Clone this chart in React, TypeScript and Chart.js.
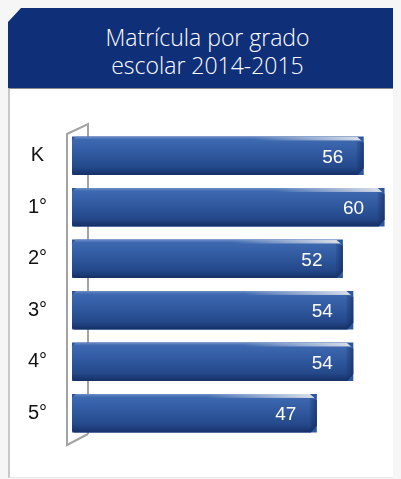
import React, { useEffect, useRef } from "react";
import { Chart, registerables } from "chart.js";

Chart.register(...registerables);

const titleLines = ["Matrícula por grado", "escolar 2014-2015"];
const grades = ["K", "1°", "2°", "3°", "4°", "5°"];
const enrollment = [56, 60, 52, 54, 54, 47];
const xMin = 0;
const xMax = 62;

const wallPlugin = {
  id: "wall",
  beforeDatasetsDraw(chart: any) {
    const { ctx, chartArea } = chart;
    const l = chartArea.left;
    const t = chartArea.top;
    const b = chartArea.bottom;
    const fx = l - 5;
    const bx = l + 16;
    ctx.save();
    ctx.strokeStyle = "#a3a3a3";
    ctx.lineWidth = 2;
    ctx.beginPath();
    ctx.moveTo(bx, b - 5);
    ctx.lineTo(bx, t - 6);
    ctx.lineTo(fx, t + 4);
    ctx.lineTo(fx, b + 6);
    ctx.lineTo(bx, b - 5);
    ctx.stroke();
    ctx.restore();
  },
};

function barPath(ctx: any, x0: number, x1: number, yT: number, yB: number) {
  ctx.beginPath();
  ctx.moveTo(x0 + 4, yT);
  ctx.lineTo(x1 - 7, yT);
  ctx.lineTo(x1, yT + 6);
  ctx.lineTo(x1, yB - 7);
  ctx.lineTo(x1 - 6, yB);
  ctx.lineTo(x0 + 2, yB);
  ctx.lineTo(x0, yB - 2);
  ctx.lineTo(x0, yT + 4);
  ctx.closePath();
}

const bar3dPlugin = {
  id: "bar3d",
  afterDatasetsDraw(chart: any) {
    const { ctx } = chart;
    const meta = chart.getDatasetMeta(0);
    meta.data.forEach((el: any, i: number) => {
      const p = el.getProps(["x", "y", "base", "height"], true);
      const x0 = Math.min(p.base, p.x);
      const x1 = Math.max(p.base, p.x);
      const yT = p.y - p.height / 2;
      const yB = p.y + p.height / 2;
      ctx.save();
      barPath(ctx, x0, x1, yT, yB);
      const g = ctx.createLinearGradient(0, yT, 0, yB);
      g.addColorStop(0, "#6f90c8");
      g.addColorStop(0.08, "#3e69b0");
      g.addColorStop(0.45, "#30599f");
      g.addColorStop(0.8, "#24488a");
      g.addColorStop(1, "#162f66");
      ctx.fillStyle = g;
      ctx.fill();
      ctx.clip();
      const hg = ctx.createLinearGradient(x1 - 110, 0, x1 - 6, 0);
      hg.addColorStop(0, "rgba(215,222,235,0)");
      hg.addColorStop(1, "rgba(220,225,235,0.95)");
      ctx.fillStyle = hg;
      ctx.fillRect(x0, yT, x1 - x0, 4);
      const sg = ctx.createLinearGradient(x1 - 7, 0, x1, 0);
      sg.addColorStop(0, "rgba(20,45,100,0.15)");
      sg.addColorStop(1, "rgba(15,35,85,0.6)");
      ctx.fillStyle = sg;
      ctx.beginPath();
      ctx.moveTo(x1 - 7, yT + 4);
      ctx.lineTo(x1, yT + 6);
      ctx.lineTo(x1, yB);
      ctx.lineTo(x1 - 7, yB);
      ctx.closePath();
      ctx.fill();
      ctx.restore();
      ctx.save();
      ctx.fillStyle = "#ffffff";
      ctx.font = "19px 'Liberation Sans', Arial, sans-serif";
      ctx.textAlign = "center";
      ctx.textBaseline = "middle";
      ctx.fillText(String(enrollment[i]), x1 - 31, p.y + 2);
      ctx.restore();
    });
  },
};

export default function App() {
  const ref = useRef<HTMLCanvasElement | null>(null);

  useEffect(() => {
    document.body.style.background = "#f6f6f6";
    if (!ref.current) return;
    const chart = new Chart(ref.current, {
      type: "bar",
      data: {
        labels: grades,
        datasets: [
          {
            data: enrollment,
            backgroundColor: "#2d579d",
            borderWidth: 0,
            barPercentage: 0.75,
            categoryPercentage: 1,
          },
        ],
      },
      options: {
        indexAxis: "y",
        animation: false,
        responsive: false,
        maintainAspectRatio: false,
        layout: { padding: { top: 41, bottom: 38, left: 0, right: 6 } },
        plugins: {
          legend: { display: false },
          tooltip: { enabled: false },
          title: { display: false },
        },
        scales: {
          x: {
            display: false,
            min: xMin,
            max: xMax,
          },
          y: {
            grid: { display: false, drawTicks: false },
            border: { display: false },
            afterFit: (axis: any) => {
              axis.width = 62;
            },
            ticks: {
              crossAlign: "center",
              padding: 25,
              color: "#111111",
              font: { family: "'Liberation Sans', Arial, sans-serif", size: 20 },
            },
          },
        },
      },
      plugins: [wallPlugin, bar3dPlugin],
    });
    return () => chart.destroy();
  }, []);

  return (
    <div style={{ width: 393, position: "relative" }}>
      <div
        style={{
          height: 80,
          background: "#0f2f78",
          color: "#ffffff",
          clipPath: "polygon(13px 0, 389px 0, 393px 4px, 393px 100%, 0 100%, 0 14px)",
          display: "flex",
          flexDirection: "column",
          alignItems: "center",
          justifyContent: "center",
          paddingTop: 6,
          paddingLeft: 6,
          boxSizing: "border-box",
          fontFamily: "'Open Sans', 'Noto Sans', sans-serif",
          fontWeight: 300,
          fontSize: 23,
          lineHeight: "28px",
        }}
      >
        {titleLines.map((t) => (
          <div key={t}>{t}</div>
        ))}
      </div>
      <div
        style={{
          borderTop: "1px solid #8a8a8a",
          borderLeft: "2px solid #c8c8c8",
          borderBottom: "1px solid #e6e6e6",
          background: "#ffffff",
          height: 388,
          width: 391,
        }}
      >
        <canvas ref={ref} width={391} height={388} style={{ display: "block" }} />
      </div>
    </div>
  );
}
